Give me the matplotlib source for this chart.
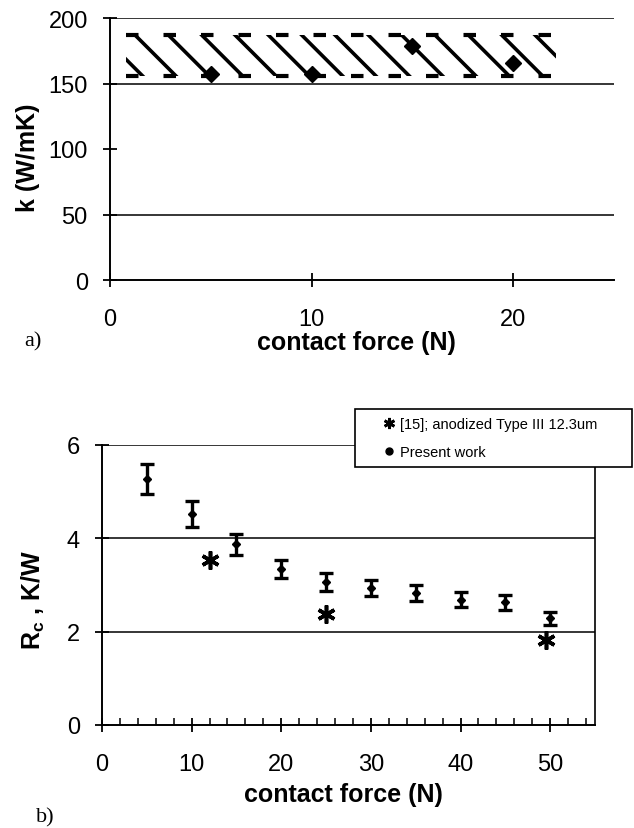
import matplotlib

matplotlib.use("Agg")
import matplotlib.pyplot as plt
from matplotlib.lines import Line2D
from matplotlib.patches import Rectangle
from matplotlib.ticker import MultipleLocator

# panel a) thermal conductivity vs contact force
force_a = [5, 10, 15, 20]
k_measured = [157, 157, 179, 166]
band_x = [0.8, 22.1]
band_low = 156
band_high = 187
k_grid = [50, 150, 200]

# panel b) contact resistance vs contact force
force_b = [5, 10, 15, 20, 25, 30, 35, 40, 45, 50]
rc_present = [5.28, 4.52, 3.87, 3.34, 3.06, 2.93, 2.83, 2.68, 2.63, 2.29]
rc_err = [0.32, 0.27, 0.23, 0.20, 0.19, 0.17, 0.17, 0.16, 0.16, 0.14]
force_ref = [12, 25, 49.5]
rc_ref = [3.54, 2.38, 1.82]
rc_grid = [2, 4, 6]

plt.rcParams["font.family"] = ["Liberation Sans", "DejaVu Sans"]
plt.rcParams["hatch.linewidth"] = 2.6

W, H = 634, 829
fig = plt.figure(figsize=(W / 100, H / 100), dpi=100)

TICK_SIZE = 17
LABEL_SIZE = 18
STAR = (6, 2, 0)


def frac(left, top, right, bottom):
    return [left / W, 1 - bottom / H, (right - left) / W, (bottom - top) / H]


def style_axis(ax):
    for side in ("left", "bottom"):
        ax.spines[side].set_linewidth(1.4)
    ax.tick_params(which="major", direction="inout", length=10, width=1.3,
                   labelsize=TICK_SIZE, color="black")
    ax.tick_params(axis="y", pad=11)
    ax.tick_params(axis="x", pad=15)


# --- a) ---
ax1 = fig.add_axes(frac(110, 19, 614, 281))
ax1.fill_between(band_x, band_low, band_high, facecolor="none",
                 edgecolor="black", hatch="\\", linewidth=0)
for level in (band_low, band_high):
    ax1.hlines(level, band_x[0], band_x[1], colors="black", linewidth=3,
               linestyles=(0, (3, 6)))
ax1.plot(force_a, k_measured, linestyle="none", marker="D", markersize=8,
         color="black")
for level in k_grid:
    ax1.axhline(level, color="black", linewidth=1.1, zorder=0)
ax1.set_xlim(0, 25)
ax1.set_ylim(0, 200)
ax1.xaxis.set_major_locator(MultipleLocator(10))
ax1.yaxis.set_major_locator(MultipleLocator(50))
ax1.spines["top"].set_visible(False)
ax1.spines["right"].set_visible(False)
style_axis(ax1)
ax1.set_xlabel("contact force (N)", fontsize=LABEL_SIZE, fontweight="bold")
ax1.set_ylabel("k (W/mK)", fontsize=LABEL_SIZE, fontweight="bold")
ax1.xaxis.set_label_coords(0.488, -0.236)
ax1.yaxis.set_label_coords(-0.162, 0.47)
fig.text(33 / W, 1 - 342 / H, "a)", family="Liberation Serif", fontsize=16,
         ha="center", va="center")

# --- b) ---
ax2 = fig.add_axes(frac(102, 446, 595, 726))
ax2.errorbar(force_b, rc_present, yerr=rc_err, fmt="D", markersize=4,
             color="black", ecolor="black", elinewidth=2.4, capsize=5,
             capthick=2.4)
ax2.plot(force_ref, rc_ref, linestyle="none", marker=STAR, markersize=13,
         markeredgewidth=2.6, color="black")
for level in rc_grid:
    ax2.axhline(level, color="black", linewidth=1.1, zorder=0)
ax2.set_xlim(0, 55)
ax2.set_ylim(0, 6)
ax2.xaxis.set_major_locator(MultipleLocator(10))
ax2.xaxis.set_minor_locator(MultipleLocator(2))
ax2.yaxis.set_major_locator(MultipleLocator(2))
ax2.spines["top"].set_visible(False)
ax2.spines["right"].set_linewidth(1.2)
style_axis(ax2)
ax2.tick_params(axis="x", which="minor", direction="in", length=5, width=1.1)
ax2.set_xlabel("contact force (N)", fontsize=LABEL_SIZE, fontweight="bold")
ax2.set_ylabel("R$_\\mathregular{c}$ , K/W", fontsize=LABEL_SIZE,
               fontweight="bold")
ax2.xaxis.set_label_coords(0.49, -0.246)
ax2.yaxis.set_label_coords(-0.14, 0.45)
for label in (ax1.xaxis.label, ax1.yaxis.label, ax2.xaxis.label, ax2.yaxis.label):
    label.set_va("center")
fig.text(45 / W, 1 - 818 / H, "b)", family="Liberation Serif", fontsize=16,
         ha="center", va="center")

# legend box drawn separately so the entries can sit further in from its edge
fig.patches.append(Rectangle((355 / W, 1 - 468 / H), 277 / W, 58 / H,
                             transform=fig.transFigure, facecolor="white",
                             edgecolor="black", linewidth=1.2, zorder=5))
handles = [
    Line2D([], [], linestyle="none", marker=STAR, markersize=8,
           markeredgewidth=2.0, color="black"),
    Line2D([], [], linestyle="none", marker="o", markersize=5, color="black"),
]
labels = ["[15]; anodized Type III 12.3um", "Present work"]
leg = fig.legend(handles, labels, loc="center left",
                 bbox_to_anchor=(382 / W, 1 - 439 / H),
                 fontsize=10.5, frameon=False, borderpad=0,
                 labelspacing=0.95, handlelength=1.0, handletextpad=0.2,
                 borderaxespad=0)
leg.set_zorder(6)

fig.savefig("out.png", dpi=100)
